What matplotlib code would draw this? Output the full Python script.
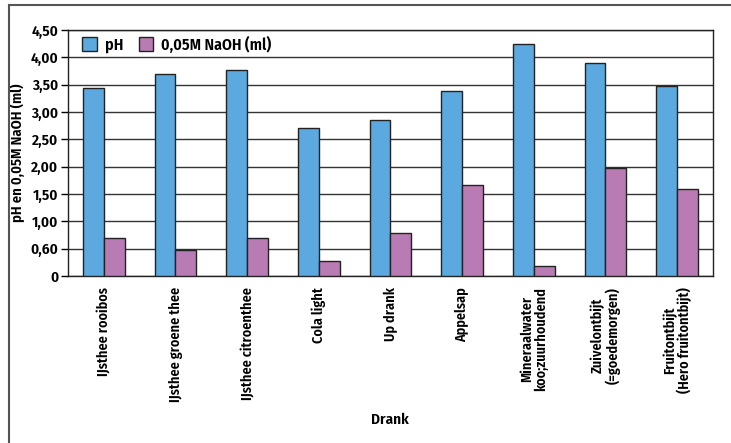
import numpy as np
import matplotlib
matplotlib.use("Agg")
import matplotlib.pyplot as plt
from matplotlib.lines import Line2D

dranken = ["IJsthee rooibos", "IJsthee groene thee", "IJsthee citroenthee",
           "Cola light", "Up drank", "Appelsap",
           "Mineraalwater\nkoo;zuurhoudend", "Zuivelontbijt\n(=goedemorgen)",
           "Fruitontbijt\n(Hero fruitontbijt)"]
ph = [3.44, 3.69, 3.77, 2.70, 2.85, 3.39, 4.25, 3.90, 3.48]
naoh = [0.69, 0.48, 0.69, 0.28, 0.79, 1.67, 0.19, 1.98, 1.59]
yticks = [0, 0.5, 1.0, 1.5, 2.0, 2.5, 3.0, 3.5, 4.0, 4.5]
ylabels = ["0", "0,60", "1,00", "1,50", "2,00", "2,50", "3,00", "3,50", "4,00", "4,50"]

fam = ['Fira Sans Condensed', 'DejaVu Sans']
plt.rcParams['font.family'] = fam
fnt = dict(fontweight='semibold')

fig = plt.figure(figsize=(7.31, 4.43), dpi=100)
ax = fig.add_axes([68/731, 1-276/443, (713-68)/731, (276-30)/443])

x = np.arange(len(dranken))
w = 0.29
ax.bar(x - w/2, ph, w, color='#5BA9DE', edgecolor='#222222', linewidth=1, label='pH', zorder=3)
ax.bar(x + w/2, naoh, w, color='#B87BB3', edgecolor='#222222', linewidth=1,
       label='0,05M NaOH (ml)', zorder=3)

ax.set_xlim(-0.5, len(dranken) - 0.5)
ax.set_ylim(0, 4.5)
ax.set_yticks(yticks)
ax.set_yticklabels(ylabels, fontsize=11, **fnt)
ax.yaxis.grid(True, color='#333333', linewidth=1, zorder=0)
ax.set_xticks(x)
ax.set_xticklabels(dranken, rotation=90, fontsize=10.2, ha='center', va='top',
                   multialignment='center', linespacing=1.0, **fnt)
ax.tick_params(axis='x', length=0, pad=8)
ax.tick_params(axis='y', length=5, width=1, direction='out', pad=2)
for s in ax.spines.values():
    s.set_color('#222222')
    s.set_linewidth(1)

ax.set_ylabel("pH en 0,05M NaOH (ml)", fontsize=10.5, labelpad=4, **fnt)
fig.text(390/731, 1-420/443, "Drank", ha='center', va='center', fontsize=11, **fnt)

ax.legend(loc='upper left', ncol=2, frameon=False,
          handlelength=0.9, handleheight=0.9, columnspacing=1.0, handletextpad=0.5,
          bbox_to_anchor=(0.0, 1.035),
          prop=dict(family=fam, weight='semibold', size=11.5))

fig.add_artist(Line2D([9/731, 1], [1-5/443, 1-5/443], color='#555555', linewidth=1.5))
fig.add_artist(Line2D([9/731, 9/731], [0, 1-5/443], color='#555555', linewidth=1.5))

fig.savefig("out.png", dpi=100)
